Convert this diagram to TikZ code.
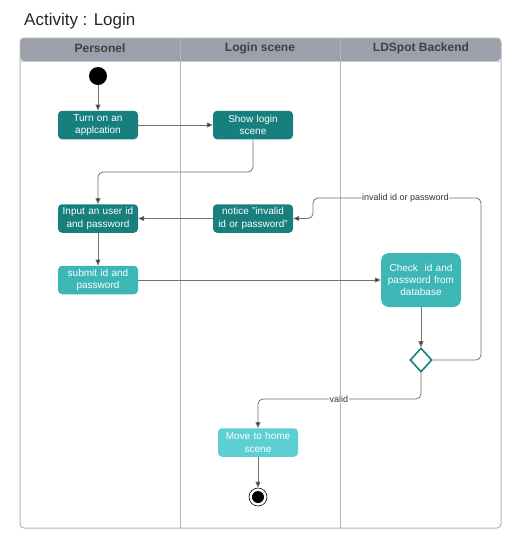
\documentclass[tikz,border=0pt]{standalone}
\usepackage{fontspec}
\setmainfont{Liberation Sans}
\usetikzlibrary{arrows.meta,shapes.geometric}
\definecolor{darkteal}{HTML}{17807E}
\definecolor{midteal}{HTML}{3DB6B6}
\definecolor{lightteal}{HTML}{5CCFD3}
\definecolor{hdrgray}{HTML}{9BA0AA}
\definecolor{lanegray}{HTML}{B4B4B4}
\definecolor{linegray}{HTML}{707070}
\tikzset{
  act/.style={rectangle, rounded corners=4pt, minimum width=80pt, minimum height=28.5pt,
    inner sep=0pt, text width=78pt, align=center, text=white,
    font=\fontsize{10}{12.3}\selectfont},
  dk/.style={act, fill=darkteal},
  md/.style={act, fill=midteal},
  lt/.style={act, fill=lightteal},
  arr/.style={draw=linegray, line width=0.8pt, rounded corners=5pt,
    -{Triangle[length=6pt,width=5pt,fill=black!80]}},
  lbl/.style={fill=white, inner sep=0.5pt, text=black!80, font=\fontsize{9}{10}\selectfont},
  hdr/.style={font=\bfseries\fontsize{12}{14}\selectfont, text=black!75}
}
\begin{document}
\begin{tikzpicture}[x=1pt,y=-1pt]
\useasboundingbox (0,0) rectangle (519,550);
% title
\node[anchor=west, font=\fontsize{17}{20}\selectfont, text=black!85, inner sep=0pt] (title) at (24,21) {Activity : Login};
% swimlanes
\fill[hdrgray, rounded corners=4pt] (20,61) -- (20,38) -- (501,38) -- (501,61) -- cycle;
\draw[lanegray, line width=1pt, rounded corners=4pt] (20,38) rectangle (501,528);
\draw[lanegray!70, line width=0.8pt] (20,61) -- (501,61);
\draw[lanegray, line width=1pt] (180,38) -- (180,528) (340,38) -- (340,528);
\node[hdr] (h1) at (100,48) {Personel};
\node[hdr] (h2) at (260,48) {Login scene};
\node[hdr] (h3) at (421,48) {LDSpot Backend};
% nodes
\node[circle, fill=black, minimum size=18pt, inner sep=0pt] (start) at (98,76) {};
\node[dk] (turn) at (98,125) {Turn on an\\applcation};
\node[dk] (show) at (253,125) {Show login\\scene};
\node[dk] (input) at (98,218.5) {Input an user id\\and password};
\node[dk] (notice) at (253,218.5) {notice "invalid\\id or password"};
\node[md] (submit) at (98,280) {submit id and\\password};
\node[md, rounded corners=8pt, minimum height=54pt] (check) at (421,280) {Check\ \ id and\\password from\\database};
\node[diamond, draw=darkteal, fill=white, line width=1.6pt, minimum width=22pt, minimum height=24pt, inner sep=0pt] (dec) at (421,360) {};
\node[lt] (move) at (258,442.5) {Move to home\\scene};
\node[circle, draw=black, line width=0.6pt, fill=white, minimum size=18pt, inner sep=0pt] (endo) at (258,497) {};
\node[circle, fill=black, minimum size=12pt, inner sep=0pt] (endi) at (258,497) {};
% coordinates
\coordinate (j1) at (175,172);
\coordinate (r1) at (481,198);
\coordinate (r2) at (313,198);
\coordinate (v1) at (339,399);
% connectors
\draw[arr] (start) -- (turn);
\draw[arr] (turn) -- (show);
\draw[arr] (show.south) |- (j1) -| (input.north);
\draw[arr] (notice.west) -- (input.east);
\draw[arr] (input) -- (submit);
\draw[arr] (submit.east) -- (check.west);
\draw[arr] (check.south) -- (dec.north);
\draw[arr] (dec.east) -| (r1) -- node[lbl, pos=0.45] (lab1) {invalid id or password} (r2) |- (notice.east);
\draw[arr] (dec.south) |- (v1) -| (move.north);
\node[lbl] (lab2) at (v1) {valid};
\draw[arr] (move) -- (endo);
\end{tikzpicture}
\end{document}
